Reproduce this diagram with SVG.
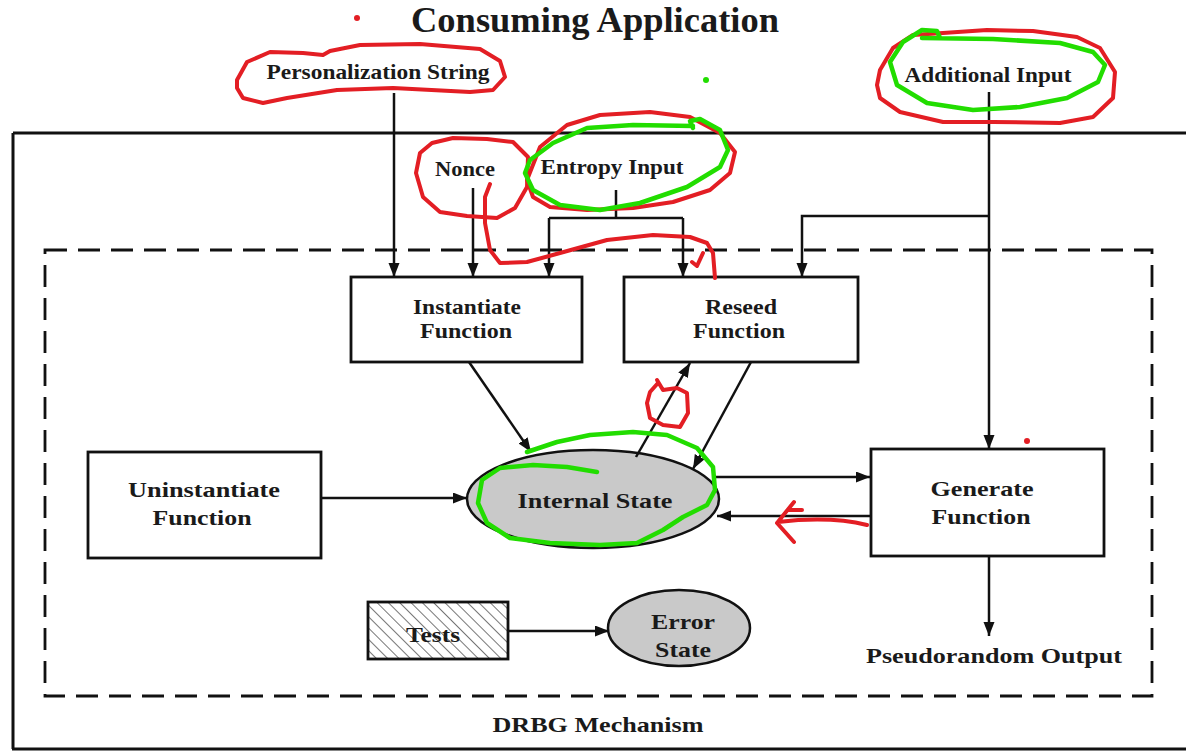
<svg xmlns="http://www.w3.org/2000/svg" width="1186" height="751" viewBox="0 0 1186 751">
<style>
text{font-family:"Liberation Serif","Times New Roman",serif;font-weight:bold;fill:#1a1a1a;text-anchor:middle}
.lbl{font-size:21px}
.big{font-size:22px}
.box{fill:#fff;stroke:#111;stroke-width:2.8}
.ell{fill:#c9c9c9;stroke:#111;stroke-width:2.5}
.con path{fill:none;stroke:#111;stroke-width:2.5}
.arr{marker-end:url(#ah)}
.red{fill:none;stroke:#e31e24;stroke-width:4;stroke-linecap:round;stroke-linejoin:round}
.grn{fill:none;stroke:#22dd00;stroke-width:4.5;stroke-linecap:round;stroke-linejoin:round}
</style>
<defs>
<marker id="ah" markerUnits="userSpaceOnUse" markerWidth="16" markerHeight="12" refX="14" refY="5.5" orient="auto">
<path d="M0,0 L14,5.5 L0,11 z" fill="#111"/>
</marker>
<pattern id="hatch" patternUnits="userSpaceOnUse" width="8" height="8" patternTransform="rotate(-45)">
<rect width="8" height="8" fill="#fff"/>
<line x1="0" y1="0" x2="0" y2="8" stroke="#777" stroke-width="2"/>
</pattern>
</defs>
<rect width="1186" height="751" fill="#fff"/>
<g id="title"><text x="595" y="32" style="font-size:35px" textLength="368" lengthAdjust="spacingAndGlyphs">Consuming Application</text></g>
<g id="outer"><path d="M13,133 H1186 M13,133 V749 M12,749 H1186" fill="none" stroke="#111" stroke-width="3"/></g>
<g id="drbg"><rect x="45" y="250" width="1107" height="446" fill="none" stroke="#111" stroke-width="2.8" stroke-dasharray="22,11"/>
<text class="big" x="598" y="732" textLength="211" lengthAdjust="spacingAndGlyphs">DRBG Mechanism</text></g>
<g id="personalization"><text class="lbl" x="378" y="79" textLength="223" lengthAdjust="spacingAndGlyphs">Personalization String</text></g>
<g id="nonce"><text class="lbl" x="465" y="176" textLength="60" lengthAdjust="spacingAndGlyphs">Nonce</text></g>
<g id="entropy"><text class="lbl" x="612" y="174" textLength="143" lengthAdjust="spacingAndGlyphs">Entropy Input</text></g>
<g id="additional"><text class="lbl" x="988" y="82" textLength="167" lengthAdjust="spacingAndGlyphs">Additional Input</text></g>
<g id="instantiate"><rect class="box" x="351" y="277" width="231" height="85"/>
<text class="lbl" x="467" y="314" textLength="108" lengthAdjust="spacingAndGlyphs">Instantiate</text><text class="lbl" x="466" y="338" textLength="92" lengthAdjust="spacingAndGlyphs">Function</text></g>
<g id="reseed"><rect class="box" x="624" y="277" width="234" height="85"/>
<text class="lbl" x="741" y="314" textLength="72" lengthAdjust="spacingAndGlyphs">Reseed</text><text class="lbl" x="739" y="338" textLength="92" lengthAdjust="spacingAndGlyphs">Function</text></g>
<g id="uninstantiate"><rect class="box" x="88" y="452" width="233" height="106"/>
<text class="big" x="204" y="497" textLength="152" lengthAdjust="spacingAndGlyphs">Uninstantiate</text><text class="big" x="202" y="525" textLength="99" lengthAdjust="spacingAndGlyphs">Function</text></g>
<g id="internal"><ellipse class="ell" cx="593" cy="499" rx="126" ry="49"/>
<text class="big" x="595" y="508" textLength="155" lengthAdjust="spacingAndGlyphs">Internal State</text></g>
<g id="generate"><rect class="box" x="871" y="449" width="233" height="107"/>
<text class="big" x="982" y="496" textLength="103" lengthAdjust="spacingAndGlyphs">Generate</text><text class="big" x="981" y="524" textLength="99" lengthAdjust="spacingAndGlyphs">Function</text></g>
<g id="tests"><rect x="368" y="602" width="140" height="57" fill="url(#hatch)" stroke="#111" stroke-width="2.8"/>
<text class="big" x="433" y="642" textLength="54" lengthAdjust="spacingAndGlyphs">Tests</text></g>
<g id="error"><ellipse class="ell" cx="679" cy="628" rx="71" ry="38"/>
<text class="big" x="683" y="629" textLength="64" lengthAdjust="spacingAndGlyphs">Error</text><text class="big" x="683" y="657" textLength="56" lengthAdjust="spacingAndGlyphs">State</text></g>
<g id="output"><text class="big" x="994" y="663" textLength="256" lengthAdjust="spacingAndGlyphs">Pseudorandom Output</text></g>
<g id="connectors" class="con">
<path class="arr" d="M394,93 V277"/>
<path class="arr" d="M473,188 V277"/>
<path d="M616,190 V218 M549,218 H683"/>
<path class="arr" d="M549,218 V277"/>
<path class="arr" d="M683,218 V277"/>
<path class="arr" d="M989,92 V449"/>
<path class="arr" d="M989,216 H802 V277"/>
<path class="arr" d="M469,362 L531,452"/>
<path class="arr" d="M636,457 L690,363"/>
<path class="arr" d="M751,362 L693,469"/>
<path class="arr" d="M321,498 H467"/>
<path class="arr" d="M715,477 H870"/>
<path class="arr" d="M871,516 H717"/>
<path class="arr" d="M508,631 H609"/>
<path class="arr" d="M989,556 V636"/>
</g>
<g id="annotations">
<circle cx="357" cy="18" r="3" fill="#e31e24"/>
<circle cx="706" cy="80" r="3" fill="#22dd00"/>
<circle cx="1027" cy="441" r="3" fill="#e31e24"/>
<path class="red" d="M237,80 L247,62 L270,52 L303,53 L323,55 L330,51 L360,45 L420,44 L480,49 L500,61 L505,77 L493,90 L470,92 L393,88 L337,90 L287,98 L263,103 L243,98 L237,88 Z"/>
<path class="red" d="M420,153 L432,143 L453,138 L487,139 L513,142 L528,157 L527,187 L515,208 L497,218 L467,216 L440,212 L423,197 L416,173 Z"/>
<path class="red" d="M527,180 L540,147 L567,125 L600,115 L650,112 L690,117 L720,133 L735,152 L730,173 L710,190 L673,202 L633,208 L587,210 L550,207 L533,197 Z"/>
<path class="grn" d="M693,128 L690,121 L700,119 L720,130 L728,150 L720,167 L687,187 L640,203 L600,210 L560,205 L533,190 L525,173 L530,160 L553,143 L587,128 L633,125 L693,126"/>
<path class="red" d="M490,184 L485,197 L485,223 L490,250 L500,263 L527,262 L560,253 L607,240 L653,235 L690,237 L707,243 L713,253 L715,278"/>
<path class="red" d="M692,262 L697,266 L703,253"/>
<path class="red" d="M658,383 L650,392 L647,403 L650,418 L663,425 L680,427 L688,413 L687,393 L677,388 L663,390 L657,380"/>
<path class="red" d="M867,525 Q830,516 778,522 M794,502 L777,523 L794,542 M789,510 L802,510"/>
<path class="red" d="M877,85 L880,70 L893,48 L913,35 L943,33 L987,30 L1033,31 L1077,37 L1100,48 L1115,72 L1113,98 L1093,117 L1060,123 L993,122 L943,122 L900,112 L880,98 Z"/>
<path class="grn" d="M940,38 L937,31 L922,30 L903,42 L890,62 L897,85 L927,103 L973,110 L1020,107 L1067,98 L1098,82 L1105,65 L1093,52 L1060,43 L993,39 L922,38"/>
<path class="grn" d="M527,452 L557,442 L590,435 L633,432 L667,435 L697,448 L713,467 L715,490 L707,505 L683,517 L663,530 L637,543 L600,545 L550,543 L510,538 L487,523 L478,503 L482,480 L500,468 L533,465 L567,467 L597,472"/>
</g>
</svg>
